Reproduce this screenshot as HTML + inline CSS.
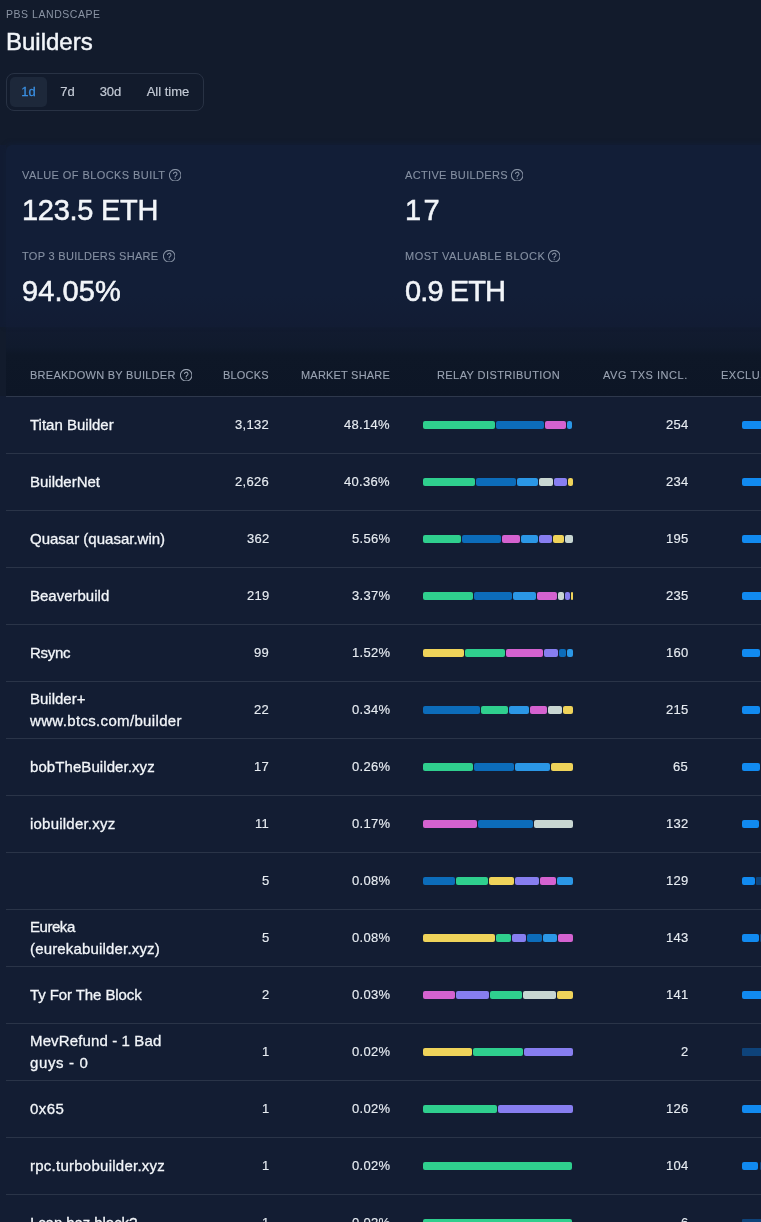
<!DOCTYPE html><html><head><meta charset="utf-8"><style>*{margin:0;padding:0;box-sizing:border-box}
html,body{width:761px;height:1222px;overflow:hidden}
body{-webkit-font-smoothing:antialiased;background:#121b2c;font-family:"Liberation Sans",sans-serif;color:#e8edf4;position:relative}
.eyebrow{position:absolute;left:6px;top:7px;font-size:10.5px;letter-spacing:0.54px;color:#8a94a4;line-height:14px;}
.title{position:absolute;left:6px;top:28px;font-size:24px;color:#f2f5f9;line-height:28px;-webkit-text-stroke:0.45px #f2f5f9}
.tabs{position:absolute;left:6px;top:73px;width:198px;height:38px;border:1px solid #283244;border-radius:8px}
.tab{position:absolute;top:3px;height:30px;line-height:30px;text-align:center;font-size:13px;color:#c3cad5;border-radius:5px;-webkit-text-stroke:0.2px #c3cad5}
.tab.act{background:#1d283a;color:#3a8ee0;-webkit-text-stroke:0.3px #3a8ee0}
.stats{position:absolute;left:6px;top:145px;width:800px;height:182px;background:linear-gradient(#121e37 0,#121e37 150px,#121c34 182px);border-radius:6px 6px 0 0;box-shadow:0 -1px 4px 1px #121d33}
.lab{position:absolute;font-size:11px;letter-spacing:0.28px;color:#8590a2;line-height:14px;white-space:nowrap;;-webkit-text-stroke:0.1px #8590a2}
.q{display:inline-block;width:12.4px;height:12.4px;margin-left:5px;vertical-align:-2px;-webkit-text-stroke:0}
.val{position:absolute;font-size:29px;color:#f2f5f9;line-height:34px;white-space:nowrap;-webkit-text-stroke:0.55px #f2f5f9}
.table{position:absolute;left:0;top:334px;width:800px;height:0}
.tbody{position:absolute;left:0;top:396px;width:761px;height:830px;background:#131d33}
.thead{position:absolute;left:0;top:0;width:100%;height:63px}
.hline{position:absolute;left:6px;top:396px;width:800px;height:1px;background:#2e384c}
.th{position:absolute;top:34px;font-size:11px;letter-spacing:0.28px;color:#9aa3b2;line-height:14px;white-space:nowrap;;-webkit-text-stroke:0.1px #9aa3b2}
.th.r{text-align:right}
.row{position:absolute;left:6px;width:800px;height:57px;border-bottom:1px solid #2a3448}
.nm{position:absolute;left:30px;font-size:15px;line-height:22px;color:#f2f5f9;white-space:nowrap;-webkit-text-stroke:0.3px #f2f5f9}
.num{position:absolute;font-size:13px;line-height:16px;color:#e6ebf1;white-space:nowrap;letter-spacing:0.3px;margin-right:-0.3px;-webkit-text-stroke:0.15px #e6ebf1}
.seg{position:absolute;height:8px;border-radius:2px}
.lstrip{position:absolute;left:0;top:145px;width:6px;height:182px;background:#121c33}
.hbg{position:absolute;left:6px;top:327px;width:761px;height:69px;background:linear-gradient(#121b30 0,#101a2d 20px,#0e1727 28px,#0d1626 69px)}
.eyebrow,.title,.tab,.lab,.val,.th,.nm,.num{will-change:transform}
</style></head><body>
<div class="eyebrow">PBS LANDSCAPE</div>
<div class="title">Builders</div>
<div class="tabs"><div class="tab act" style="left:3px;width:37px">1d</div><div class="tab" style="left:42px;width:37px">7d</div><div class="tab" style="left:81px;width:45px">30d</div><div class="tab" style="left:128px;width:66px">All time</div></div>
<div class="lstrip"></div><div class="hbg"></div>
<div class="stats">
 <div class="lab" style="left:16px;top:23px;letter-spacing:0.42px">VALUE OF BLOCKS BUILT<svg class="q" style="margin-left:3.3px" viewBox="0 0 12 12"><circle cx="6" cy="6" r="5.6" fill="none" stroke="currentColor" stroke-width="1"/><path d="M4.35 4.75a1.7 1.7 0 1 1 2.45 1.5c-.5.25-.8.55-.8 1.1v.3" fill="none" stroke="currentColor" stroke-width="1"/><circle cx="6" cy="8.95" r=".6" fill="currentColor"/></svg></div>
 <div class="val" style="left:16px;top:48px;letter-spacing:-0.27px">123.5 ETH</div>
 <div class="lab" style="left:16px;top:104px;letter-spacing:0.30px">TOP 3 BUILDERS SHARE<svg class="q" style="margin-left:4.4px" viewBox="0 0 12 12"><circle cx="6" cy="6" r="5.6" fill="none" stroke="currentColor" stroke-width="1"/><path d="M4.35 4.75a1.7 1.7 0 1 1 2.45 1.5c-.5.25-.8.55-.8 1.1v.3" fill="none" stroke="currentColor" stroke-width="1"/><circle cx="6" cy="8.95" r=".6" fill="currentColor"/></svg></div>
 <div class="val" style="left:16px;top:129px;letter-spacing:0.1px">94.05%</div>
 <div class="lab" style="left:399px;top:23px;letter-spacing:0.34px">ACTIVE BUILDERS<svg class="q" style="margin-left:2.9px" viewBox="0 0 12 12"><circle cx="6" cy="6" r="5.6" fill="none" stroke="currentColor" stroke-width="1"/><path d="M4.35 4.75a1.7 1.7 0 1 1 2.45 1.5c-.5.25-.8.55-.8 1.1v.3" fill="none" stroke="currentColor" stroke-width="1"/><circle cx="6" cy="8.95" r=".6" fill="currentColor"/></svg></div>
 <div class="val" style="left:399px;top:48px;letter-spacing:2.4px">17</div>
 <div class="lab" style="left:399px;top:104px;letter-spacing:0.49px">MOST VALUABLE BLOCK<svg class="q" style="margin-left:2.5px" viewBox="0 0 12 12"><circle cx="6" cy="6" r="5.6" fill="none" stroke="currentColor" stroke-width="1"/><path d="M4.35 4.75a1.7 1.7 0 1 1 2.45 1.5c-.5.25-.8.55-.8 1.1v.3" fill="none" stroke="currentColor" stroke-width="1"/><circle cx="6" cy="8.95" r=".6" fill="currentColor"/></svg></div>
 <div class="val" style="left:399px;top:129px;letter-spacing:-0.9px">0.9 ETH</div>
</div>
<div class="table">
 <div class="thead">
  <div class="th" style="left:30px;letter-spacing:0.26px">BREAKDOWN BY BUILDER<svg class="q" style="margin-left:4.2px" viewBox="0 0 12 12"><circle cx="6" cy="6" r="5.6" fill="none" stroke="currentColor" stroke-width="1"/><path d="M4.35 4.75a1.7 1.7 0 1 1 2.45 1.5c-.5.25-.8.55-.8 1.1v.3" fill="none" stroke="currentColor" stroke-width="1"/><circle cx="6" cy="8.95" r=".6" fill="currentColor"/></svg></div>
  <div class="th r" style="right:calc(100% - 269px);letter-spacing:0.19px">BLOCKS</div>
  <div class="th r" style="right:calc(100% - 390px);letter-spacing:0.2px">MARKET SHARE</div>
  <div class="th" style="left:437px;letter-spacing:0.41px">RELAY DISTRIBUTION</div>
  <div class="th r" style="right:calc(100% - 688px);letter-spacing:0.53px">AVG TXS INCL.</div>
  <div class="th" style="left:721px;letter-spacing:0.5px">EXCLUSIVITY</div>
 </div>
</div>
<div class="tbody"></div><div class="hline"></div>

<div class="row" style="top:397px"></div><div class="nm" style="top:414px">Titan Builder</div><div class="num" style="top:417px;right:492px">3,132</div><div class="num" style="top:417px;right:371px">48.14%</div><i class="seg" style="top:421px;left:423px;width:72px;background:#2fcf8e"></i><i class="seg" style="top:421px;left:496px;width:48px;background:#0c6cba"></i><i class="seg" style="top:421px;left:545px;width:21px;background:#d462d0"></i><i class="seg" style="top:421px;left:567px;width:5px;background:#2b97e6"></i><div class="num" style="top:417px;right:73px">254</div><i class="seg" style="top:421px;left:742px;width:28px;background:#118af0"></i>
<div class="row" style="top:454px"></div><div class="nm" style="top:471px">BuilderNet</div><div class="num" style="top:474px;right:492px">2,626</div><div class="num" style="top:474px;right:371px">40.36%</div><i class="seg" style="top:478px;left:423px;width:52px;background:#2fcf8e"></i><i class="seg" style="top:478px;left:476px;width:40px;background:#0c6cba"></i><i class="seg" style="top:478px;left:517px;width:21px;background:#2b97e6"></i><i class="seg" style="top:478px;left:539px;width:14px;background:#c8d6d2"></i><i class="seg" style="top:478px;left:554px;width:13px;background:#877ef0"></i><i class="seg" style="top:478px;left:568px;width:5px;background:#efd35a"></i><div class="num" style="top:474px;right:73px">234</div><i class="seg" style="top:478px;left:742px;width:28px;background:#118af0"></i>
<div class="row" style="top:511px"></div><div class="nm" style="top:528px">Quasar (quasar.win)</div><div class="num" style="top:531px;right:492px">362</div><div class="num" style="top:531px;right:371px">5.56%</div><i class="seg" style="top:535px;left:423px;width:38px;background:#2fcf8e"></i><i class="seg" style="top:535px;left:462px;width:39px;background:#0c6cba"></i><i class="seg" style="top:535px;left:502px;width:18px;background:#d462d0"></i><i class="seg" style="top:535px;left:521px;width:17px;background:#2b97e6"></i><i class="seg" style="top:535px;left:539px;width:13px;background:#877ef0"></i><i class="seg" style="top:535px;left:553px;width:11px;background:#efd35a"></i><i class="seg" style="top:535px;left:565px;width:8px;background:#c8d6d2"></i><div class="num" style="top:531px;right:73px">195</div><i class="seg" style="top:535px;left:742px;width:28px;background:#118af0"></i>
<div class="row" style="top:568px"></div><div class="nm" style="top:585px">Beaverbuild</div><div class="num" style="top:588px;right:492px">219</div><div class="num" style="top:588px;right:371px">3.37%</div><i class="seg" style="top:592px;left:423px;width:50px;background:#2fcf8e"></i><i class="seg" style="top:592px;left:474px;width:38px;background:#0c6cba"></i><i class="seg" style="top:592px;left:513px;width:23px;background:#2b97e6"></i><i class="seg" style="top:592px;left:537px;width:20px;background:#d462d0"></i><i class="seg" style="top:592px;left:558px;width:6px;background:#c8d6d2"></i><i class="seg" style="top:592px;left:565px;width:5px;background:#877ef0"></i><i class="seg" style="top:592px;left:571px;width:2px;background:#efd35a"></i><div class="num" style="top:588px;right:73px">235</div><i class="seg" style="top:592px;left:742px;width:28px;background:#118af0"></i>
<div class="row" style="top:625px"></div><div class="nm" style="top:642px"><span style="letter-spacing:-0.3px">Rsync</span></div><div class="num" style="top:645px;right:492px">99</div><div class="num" style="top:645px;right:371px">1.52%</div><i class="seg" style="top:649px;left:423px;width:41px;background:#efd35a"></i><i class="seg" style="top:649px;left:465px;width:40px;background:#2fcf8e"></i><i class="seg" style="top:649px;left:506px;width:37px;background:#d462d0"></i><i class="seg" style="top:649px;left:544px;width:14px;background:#877ef0"></i><i class="seg" style="top:649px;left:559px;width:7px;background:#0c6cba"></i><i class="seg" style="top:649px;left:567px;width:6px;background:#2b97e6"></i><div class="num" style="top:645px;right:73px">160</div><i class="seg" style="top:649px;left:742px;width:18px;background:#118af0"></i>
<div class="row" style="top:682px"></div><div class="nm two" style="top:688px">Builder+<br><span style="letter-spacing:0.34px">www.btcs.com/builder</span></div><div class="num" style="top:702px;right:492px">22</div><div class="num" style="top:702px;right:371px">0.34%</div><i class="seg" style="top:706px;left:423px;width:57px;background:#0c6cba"></i><i class="seg" style="top:706px;left:481px;width:27px;background:#2fcf8e"></i><i class="seg" style="top:706px;left:509px;width:20px;background:#2b97e6"></i><i class="seg" style="top:706px;left:530px;width:17px;background:#d462d0"></i><i class="seg" style="top:706px;left:548px;width:14px;background:#c8d6d2"></i><i class="seg" style="top:706px;left:563px;width:10px;background:#efd35a"></i><div class="num" style="top:702px;right:73px">215</div><i class="seg" style="top:706px;left:742px;width:18px;background:#118af0"></i>
<div class="row" style="top:739px"></div><div class="nm" style="top:756px"><span style="letter-spacing:0.08px">bobTheBuilder.xyz</span></div><div class="num" style="top:759px;right:492px">17</div><div class="num" style="top:759px;right:371px">0.26%</div><i class="seg" style="top:763px;left:423px;width:50px;background:#2fcf8e"></i><i class="seg" style="top:763px;left:474px;width:40px;background:#0c6cba"></i><i class="seg" style="top:763px;left:515px;width:35px;background:#2b97e6"></i><i class="seg" style="top:763px;left:551px;width:22px;background:#efd35a"></i><div class="num" style="top:759px;right:73px">65</div><i class="seg" style="top:763px;left:742px;width:18px;background:#118af0"></i>
<div class="row" style="top:796px"></div><div class="nm" style="top:813px"><span style="letter-spacing:0.22px">iobuilder.xyz</span></div><div class="num" style="top:816px;right:492px">11</div><div class="num" style="top:816px;right:371px">0.17%</div><i class="seg" style="top:820px;left:423px;width:54px;background:#d462d0"></i><i class="seg" style="top:820px;left:478px;width:55px;background:#0c6cba"></i><i class="seg" style="top:820px;left:534px;width:39px;background:#c8d6d2"></i><div class="num" style="top:816px;right:73px">132</div><i class="seg" style="top:820px;left:742px;width:17px;background:#118af0"></i>
<div class="row" style="top:853px"></div><div class="nm" style="top:870px"></div><div class="num" style="top:873px;right:492px">5</div><div class="num" style="top:873px;right:371px">0.08%</div><i class="seg" style="top:877px;left:423px;width:32px;background:#0c6cba"></i><i class="seg" style="top:877px;left:456px;width:32px;background:#2fcf8e"></i><i class="seg" style="top:877px;left:489px;width:25px;background:#efd35a"></i><i class="seg" style="top:877px;left:515px;width:24px;background:#877ef0"></i><i class="seg" style="top:877px;left:540px;width:16px;background:#d462d0"></i><i class="seg" style="top:877px;left:557px;width:16px;background:#2b97e6"></i><div class="num" style="top:873px;right:73px">129</div><i class="seg" style="top:877px;left:742px;width:13px;background:#118af0"></i><i class="seg" style="top:877px;left:756px;width:14px;background:#0e437a;border-radius:1px"></i>
<div class="row" style="top:910px"></div><div class="nm two" style="top:916px"><span style="letter-spacing:-0.46px">Eureka</span><br><span style="letter-spacing:0.17px">(eurekabuilder.xyz)</span></div><div class="num" style="top:930px;right:492px">5</div><div class="num" style="top:930px;right:371px">0.08%</div><i class="seg" style="top:934px;left:423px;width:72px;background:#efd35a"></i><i class="seg" style="top:934px;left:496px;width:15px;background:#2fcf8e"></i><i class="seg" style="top:934px;left:512px;width:14px;background:#877ef0"></i><i class="seg" style="top:934px;left:527px;width:15px;background:#0c6cba"></i><i class="seg" style="top:934px;left:543px;width:14px;background:#2b97e6"></i><i class="seg" style="top:934px;left:558px;width:15px;background:#d462d0"></i><div class="num" style="top:930px;right:73px">143</div><i class="seg" style="top:934px;left:742px;width:17px;background:#118af0"></i><i class="seg" style="top:934px;left:760px;width:10px;background:#0e437a;border-radius:1px"></i>
<div class="row" style="top:967px"></div><div class="nm" style="top:984px"><span style="letter-spacing:-0.09px">Ty For The Block</span></div><div class="num" style="top:987px;right:492px">2</div><div class="num" style="top:987px;right:371px">0.03%</div><i class="seg" style="top:991px;left:423px;width:32px;background:#d462d0"></i><i class="seg" style="top:991px;left:456px;width:33px;background:#877ef0"></i><i class="seg" style="top:991px;left:490px;width:32px;background:#2fcf8e"></i><i class="seg" style="top:991px;left:523px;width:33px;background:#c8d6d2"></i><i class="seg" style="top:991px;left:557px;width:16px;background:#efd35a"></i><div class="num" style="top:987px;right:73px">141</div><i class="seg" style="top:991px;left:742px;width:28px;background:#118af0"></i>
<div class="row" style="top:1024px"></div><div class="nm two" style="top:1030px"><span style="letter-spacing:0.13px">MevRefund - 1 Bad</span><br><span style="letter-spacing:0.63px">guys - 0</span></div><div class="num" style="top:1044px;right:492px">1</div><div class="num" style="top:1044px;right:371px">0.02%</div><i class="seg" style="top:1048px;left:423px;width:49px;background:#efd35a"></i><i class="seg" style="top:1048px;left:473px;width:50px;background:#2fcf8e"></i><i class="seg" style="top:1048px;left:524px;width:49px;background:#877ef0"></i><div class="num" style="top:1044px;right:73px">2</div><i class="seg" style="top:1048px;left:742px;width:28px;background:#0e437a;border-radius:1px"></i>
<div class="row" style="top:1081px"></div><div class="nm" style="top:1098px"><span style="letter-spacing:0.4px">0x65</span></div><div class="num" style="top:1101px;right:492px">1</div><div class="num" style="top:1101px;right:371px">0.02%</div><i class="seg" style="top:1105px;left:423px;width:74px;background:#2fcf8e"></i><i class="seg" style="top:1105px;left:498px;width:75px;background:#877ef0"></i><div class="num" style="top:1101px;right:73px">126</div><i class="seg" style="top:1105px;left:742px;width:28px;background:#118af0"></i>
<div class="row" style="top:1138px"></div><div class="nm" style="top:1155px"><span style="letter-spacing:0.25px">rpc.turbobuilder.xyz</span></div><div class="num" style="top:1158px;right:492px">1</div><div class="num" style="top:1158px;right:371px">0.02%</div><i class="seg" style="top:1162px;left:423px;width:149px;background:#2fcf8e"></i><div class="num" style="top:1158px;right:73px">104</div><i class="seg" style="top:1162px;left:742px;width:16px;background:#118af0"></i><i class="seg" style="top:1162px;left:760px;width:10px;background:#0e437a;border-radius:1px"></i>
<div class="row" style="top:1195px"></div><div class="nm" style="top:1212px"><span style="letter-spacing:-0.07px">I can haz block?</span></div><div class="num" style="top:1215px;right:492px">1</div><div class="num" style="top:1215px;right:371px">0.02%</div><i class="seg" style="top:1219px;left:423px;width:149px;background:#2fcf8e"></i><div class="num" style="top:1215px;right:73px">6</div><i class="seg" style="top:1219px;left:742px;width:28px;background:#0e437a;border-radius:1px"></i>
</body></html>
